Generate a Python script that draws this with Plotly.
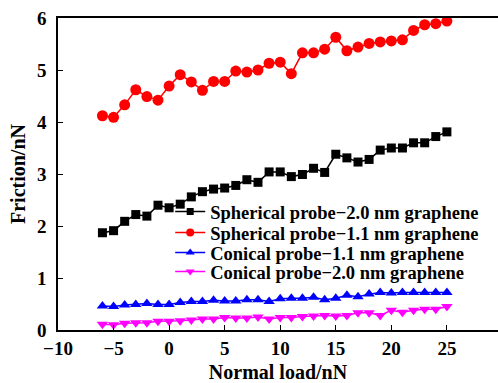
import plotly.graph_objects as go

load = list(range(-6, 26))

sph_20 = [1.87, 1.91, 2.09, 2.22, 2.19, 2.40, 2.35, 2.42, 2.56, 2.66, 2.71, 2.73, 2.78, 2.89, 2.84, 3.04,
          3.04, 2.95, 2.99, 3.11, 3.03, 3.38, 3.31, 3.23, 3.28, 3.46, 3.50, 3.50, 3.60, 3.60, 3.72, 3.81]
sph_11 = [4.12, 4.09, 4.33, 4.62, 4.49, 4.42, 4.69, 4.91, 4.77, 4.61, 4.78, 4.78, 4.98, 4.96, 5.00, 5.13,
          5.15, 4.93, 5.33, 5.33, 5.40, 5.63, 5.37, 5.44, 5.51, 5.54, 5.56, 5.58, 5.76, 5.87, 5.89, 5.94]
con_11 = [0.46, 0.45, 0.48, 0.49, 0.51, 0.49, 0.49, 0.53, 0.55, 0.55, 0.57, 0.56, 0.56, 0.58, 0.58, 0.55,
          0.60, 0.61, 0.61, 0.63, 0.58, 0.61, 0.67, 0.64, 0.69, 0.72, 0.71, 0.72, 0.72, 0.72, 0.72, 0.72]
con_20 = [0.11, 0.10, 0.13, 0.14, 0.14, 0.17, 0.17, 0.18, 0.19, 0.21, 0.21, 0.24, 0.23, 0.23, 0.25, 0.21,
          0.24, 0.24, 0.26, 0.27, 0.28, 0.27, 0.28, 0.33, 0.33, 0.28, 0.38, 0.34, 0.38, 0.40, 0.40, 0.45]

names = ["Spherical probe\u22122.0 nm graphene", "Spherical probe\u22121.1 nm graphene",
         "Conical probe\u22121.1 nm graphene", "Conical probe\u22122.0 nm graphene"]
series = [sph_20, sph_11, con_11, con_20]
colors = ["#000000", "#ff0000", "#0000ff", "#ff00ff"]
symbols = ["square", "circle", "triangle-up", "triangle-down"]
sizes = [9, 11, 10, 10]
legend_sizes = [7, 8, 8, 8]
legend_ids = ["legend", "legend2", "legend3", "legend4"]
legend_y = [0.378, 0.311, 0.247, 0.186]

FONT = "Liberation Serif"

fig = go.Figure()
for n, s, c, sym, sz, lsz, lid in zip(names, series, colors, symbols, sizes, legend_sizes, legend_ids):
    fig.add_trace(go.Scatter(
        x=load, y=s, name=n, mode="lines+markers", showlegend=False,
        line=dict(color=c, width=1.5),
        marker=dict(symbol=sym, size=sz, color=c, line=dict(width=0)),
    ))
    # legend-only entry with smaller symbol
    fig.add_trace(go.Scatter(
        x=[None], y=[None], name=n, mode="lines+markers", showlegend=True, legend=lid,
        line=dict(color=c, width=1.5),
        marker=dict(symbol=sym, size=lsz, color=c, line=dict(width=0)),
    ))

legend_common = dict(
    xanchor="left", yanchor="middle",
    bgcolor="rgba(0,0,0,0)", borderwidth=0,
    font=dict(family=FONT, size=18.5, color="black", weight="bold"),
    itemwidth=30,
)
layout_legends = {}
for lid, ly in zip(legend_ids, legend_y):
    layout_legends[lid] = dict(x=0.255, y=ly, **legend_common)

fig.update_layout(
    width=498, height=383,
    margin=dict(l=57.5, r=0, t=18, b=53),
    paper_bgcolor="white", plot_bgcolor="white",
    font=dict(family=FONT, size=18, color="black"),
    showlegend=True,
    xaxis=dict(
        range=[-10, 29.6], tickmode="array", tickvals=[-10, -5, 0, 5, 10, 15, 20, 25],
        ticktext=["\u221210", "\u22125", "0", "5", "10", "15", "20", "25"],
        ticks="inside", ticklen=5, tickwidth=1.2, tickcolor="black",
        showline=True, linecolor="black", linewidth=1.5, mirror=True,
        showgrid=False, zeroline=False,
        tickfont=dict(family=FONT, size=19, weight="bold"),
        title=dict(text="Normal load/nN", font=dict(family=FONT, size=20, weight="bold"), standoff=11),
    ),
    yaxis=dict(
        range=[0, 6], dtick=1,
        ticks="inside", ticklen=5, tickwidth=1.2, tickcolor="black",
        showline=True, linecolor="black", linewidth=1.5, mirror=False,
        showgrid=False, zeroline=False,
        tickfont=dict(family=FONT, size=19, weight="bold"),
        ticklabelstandoff=6,
        title=dict(text="Friction/nN", font=dict(family=FONT, size=20, weight="bold"), standoff=6),
    ),
    **layout_legends,
)

fig.write_html("out.html")
